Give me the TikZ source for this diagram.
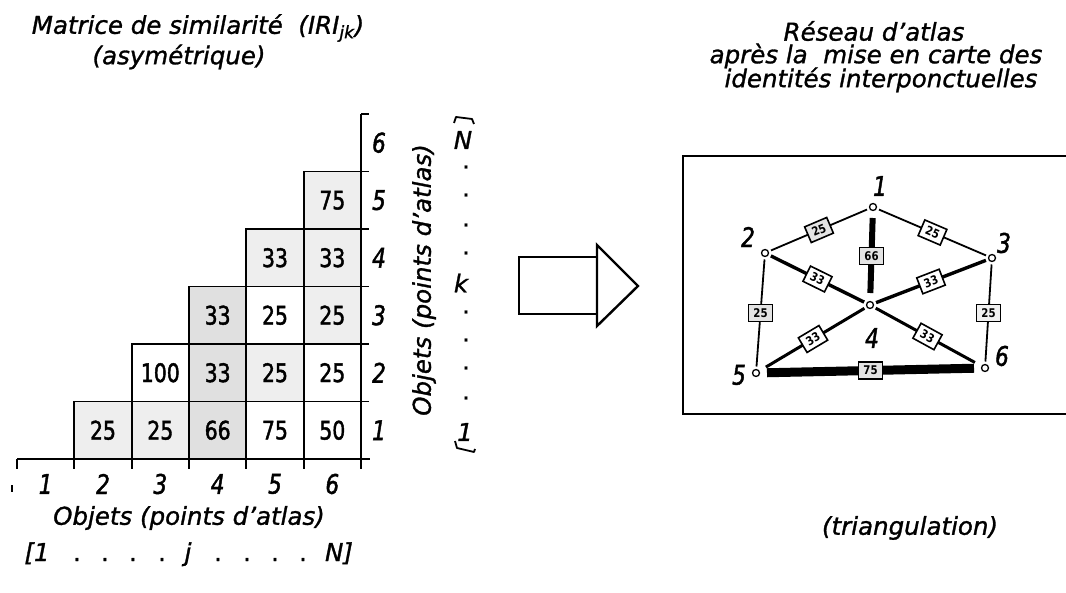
\documentclass[tikz,border=0pt]{standalone}
\usepackage{fontspec}
\setmainfont{DejaVu Sans}[FakeBold=1.2]
\newfontfamily\isonum{DejaVu Sans}[FakeStretch=0.8,FakeBold=1.6]
\newfontfamily\tagfont{DejaVu Sans Bold}[FakeStretch=0.85]
\begin{document}
\begin{tikzpicture}[x=1pt,y=-1pt,
  ttl/.style={font=\fontsize{24.5}{26}\selectfont\itshape, inner sep=0},
  cell/.style={draw, line width=1.8pt, minimum width=57.33pt, minimum height=57.5pt, inner sep=0, font=\isonum\fontsize{25.5}{25}\selectfont},
  lt/.style={fill=gray!13}, dk/.style={fill=gray!24},
  axnum/.style={font=\isonum\itshape\fontsize{27}{27}\selectfont, inner sep=0},
  axln/.style={line width=1.8pt},
  vtx/.style={circle, draw, line width=1.3pt, minimum size=7pt, inner sep=0, outer sep=3pt},
  vlab/.style={font=\isonum\itshape\fontsize{27}{27}\selectfont, inner sep=0},
  tag/.style={draw, fill=white, line width=1.6pt, inner sep=1pt, minimum width=24pt, minimum height=17pt, font=\tagfont\fontsize{12}{12}\selectfont},
  shd/.style={fill=gray!22},
  dotn/.style={font=\fontsize{24}{24}\selectfont, inner sep=0}
]
\useasboundingbox (0,0) rectangle (1066,593);

% ---------- titles ----------
\node[ttl] (t1) at (198,28) {Matrice de similarité \ (IRI\textsubscript{jk})};
\node[ttl] (t2) at (179,57) {(asymétrique)};
\node[ttl] (t3) at (874,31) {Réseau d'atlas};
\node[ttl] (t4) at (876,56) {après la \ mise en carte des};
\node[ttl] (t5) at (881,80) {identités interponctuelles};

% ---------- matrix ----------
\def\cx#1{17+57.333*(#1-0.5)}
\def\ry#1{459-57.5*(#1-0.5)}
\node[cell,lt] (c21) at ({\cx{2}},{\ry{1}}) {25};
\node[cell,lt] (c31) at ({\cx{3}},{\ry{1}}) {25};
\node[cell,dk] (c41) at ({\cx{4}},{\ry{1}}) {66};
\node[cell]    (c51) at ({\cx{5}},{\ry{1}}) {75};
\node[cell]    (c61) at ({\cx{6}},{\ry{1}}) {50};
\node[cell]    (c32) at ({\cx{3}},{\ry{2}}) {100};
\node[cell,dk] (c42) at ({\cx{4}},{\ry{2}}) {33};
\node[cell,lt] (c52) at ({\cx{5}},{\ry{2}}) {25};
\node[cell]    (c62) at ({\cx{6}},{\ry{2}}) {25};
\node[cell,dk] (c43) at ({\cx{4}},{\ry{3}}) {33};
\node[cell]    (c53) at ({\cx{5}},{\ry{3}}) {25};
\node[cell,lt] (c63) at ({\cx{6}},{\ry{3}}) {25};
\node[cell,lt] (c54) at ({\cx{5}},{\ry{4}}) {33};
\node[cell,lt] (c64) at ({\cx{6}},{\ry{4}}) {33};
\node[cell,lt] (c65) at ({\cx{6}},{\ry{5}}) {75};

% axes
\draw[axln] (17,459) -- (370,459);
\draw[axln] (361,114) -- (361,469);
\foreach \i in {0,...,6} {
  \draw[axln] ({17+57.333*\i},459) -- ({17+57.333*\i},469);
  \draw[axln] (361,{459-57.5*\i}) -- (369,{459-57.5*\i});
}
\draw[line width=1.4pt] (12,485) -- (12,492);

\foreach \i in {1,...,6} {
  \node[axnum] (cl\i) at ({\cx{\i}},484) {\i};
  \node[axnum] (rl\i) at (379,{\ry{\i}}) {\i};
}
\node[ttl] (xlab) at (189,518) {Objets (points d'atlas)};
\node[ttl] (ylab) at (424,280) [rotate=90] {Objets (points d'atlas)};

% horizontal index range
\node[ttl, anchor=base] (h1) at (37,561) {[1};
\foreach \x [count=\n] in {77,105,133,162,218,247,275,303}
  \node[dotn, anchor=base] (hd\n) at (\x,561) {.};
\node[ttl, anchor=base] (hj) at (188,561) {j};
\node[ttl, anchor=base] (hN) at (339,561) {N]};

% vertical index range
\node[ttl] (vN) at (463,140) {N};
\node[ttl] (vk) at (461,283) {k};
\node[ttl] (v1) at (465,432) {1};
\foreach \y [count=\n] in {167,195,225,253,312,340,368,398}
  \node[dotn] (vd\n) at (466,\y) {.};
\draw[line width=1.8pt, line join=round] (454,123) -- (456,117) -- (472,119) -- (474,124);
\draw[line width=1.8pt, line join=round] (455,441) -- (457,448) -- (474,452) -- (475,449);

% ---------- big arrow ----------
\draw[line width=2.4pt] (519,257) rectangle (597,314);
\draw[line width=2.4pt, line join=miter] (597,245) -- (638,286) -- (597,326) -- cycle;

% ---------- network ----------
\draw[line width=2pt] (1075,156) -- (683,156) -- (683,414) -- (1075,414);

\node[vtx] (n1) at (873,207) {};
\node[vtx] (n2) at (765,253) {};
\node[vtx] (n3) at (992,258) {};
\node[vtx] (n4) at (870,305) {};
\node[vtx] (n5) at (756,373) {};
\node[vtx] (n6) at (985,368) {};
\node[vlab] (l1) at (880,186) {1};
\node[vlab] (l2) at (748,237) {2};
\node[vlab] (l3) at (1004,243) {3};
\node[vlab] (l4) at (872,338) {4};
\node[vlab] (l5) at (739,375) {5};
\node[vlab] (l6) at (1002,356) {6};

\draw[line width=1.8pt] (n1) -- node[tag,shd,sloped] (e12) {25} (n2);
\draw[line width=1.8pt] (n1) -- node[tag,sloped] (e13) {25} (n3);
\draw[line width=6pt, shorten <=4.5pt, shorten >=5.5pt] (n1) -- node[tag,shd] (e14) {66} (n4);
\draw[line width=3.4pt] (n2) -- node[tag,sloped] (e24) {33} (n4);
\draw[line width=3.4pt] (n3) -- node[tag,sloped] (e34) {33} (n4);
\draw[line width=1.8pt] (n2) -- node[tag,shd] (e25) {25} (n5);
\draw[line width=1.8pt] (n3) -- node[tag,fill=gray!12] (e36) {25} (n6);
\draw[line width=3pt, shorten >=5pt] (n4) -- node[tag,sloped] (e45) {33} (n5);
\draw[line width=3pt, shorten >=5pt] (n4) -- node[tag,sloped] (e46) {33} (n6);
\draw[line width=9pt, shorten <=4.5pt, shorten >=4.5pt] (n5) -- node[tag,shd] (e56) {75} (n6);

\node[ttl] (tri) at (910,528) {(triangulation)};
\end{tikzpicture}
\end{document}
